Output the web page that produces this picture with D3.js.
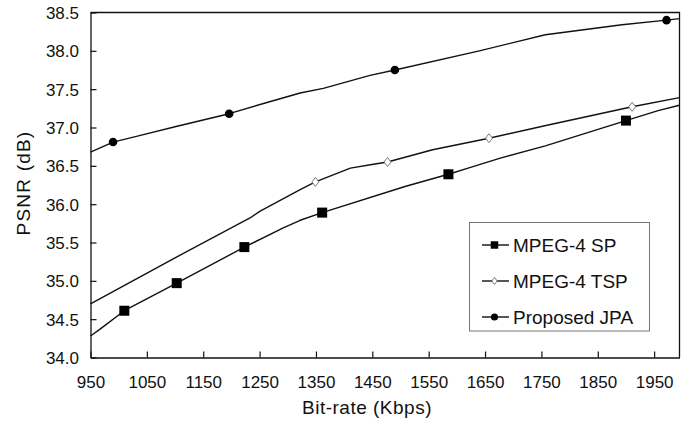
<!DOCTYPE html>
<html>
<head>
<meta charset="utf-8">
<script src="https://cdn.jsdelivr.net/npm/d3@7"></script>
<style>
  body { margin: 0; background: #fff; }
  text { font-family: "Liberation Sans", Arial, sans-serif; fill: #111; }
</style>
</head>
<body>
<div id="chart"></div>
<script>
var width = 690;
var height = 422;

// series names
var seriesNames = ["MPEG-4 SP", "MPEG-4 TSP", "Proposed JPA"];

// MPEG-4 SP curve (bit-rate, PSNR)
var spRate = [950, 967, 1010, 1103, 1223, 1292, 1322, 1361, 1508, 1585, 1620, 1677, 1757, 1900, 1957, 1995];
var spPsnr = [34.28, 34.37, 34.61, 34.97, 35.44, 35.69, 35.79, 35.89, 36.23, 36.39, 36.47, 36.60, 36.76, 37.09, 37.22, 37.29];
var spMarkRate = [1010, 1103, 1223, 1361, 1585, 1900];
var spMarkPsnr = [34.61, 34.97, 35.44, 35.89, 36.39, 37.09];

// MPEG-4 TSP curve
var tspRate = [950, 1100, 1233, 1251, 1322, 1349, 1411, 1452, 1477, 1557, 1657, 1760, 1911, 1995];
var tspPsnr = [34.70, 35.30, 35.82, 35.91, 36.19, 36.29, 36.47, 36.52, 36.55, 36.71, 36.86, 37.03, 37.27, 37.39];
var tspMarkRate = [1349, 1477, 1657, 1911];
var tspMarkPsnr = [36.29, 36.55, 36.86, 37.27];

// Proposed JPA curve
var jpaRate = [950, 990, 1035, 1100, 1196, 1260, 1322, 1363, 1446, 1490, 1640, 1757, 1893, 1972, 1995];
var jpaPsnr = [36.68, 36.81, 36.89, 37.01, 37.18, 37.32, 37.45, 37.51, 37.68, 37.75, 38.00, 38.21, 38.34, 38.40, 38.42];
var jpaMarkRate = [990, 1196, 1490, 1972];
var jpaMarkPsnr = [36.81, 37.18, 37.75, 38.40];

// axis ticks
var xTicks = [950, 1050, 1150, 1250, 1350, 1450, 1550, 1650, 1750, 1850, 1950];
var yTicks = [34.0, 34.5, 35.0, 35.5, 36.0, 36.5, 37.0, 37.5, 38.0, 38.5];

var plotLeft = 90.5, plotRight = 679.5, plotTop = 12.5, plotBottom = 357.5;

var xScale = d3.scaleLinear().domain([950, 1995]).range([plotLeft, plotRight]);
var yScale = d3.scaleLinear().domain([34, 38.5]).range([plotBottom, plotTop]);

var svg = d3.select("#chart")
    .append("svg")
    .attr("width", width)
    .attr("height", height);

function zip(a, b) {
    return a.map(function(v, i) { return [v, b[i]]; });
}

// frame (top and right)
svg.append("path")
    .attr("d", "M" + plotLeft + "," + plotTop + "H" + plotRight + "V" + plotBottom)
    .attr("fill", "none")
    .attr("stroke", "#111")
    .attr("stroke-width", 1.3);

// x axis
var xAxis = d3.axisBottom(xScale).tickValues(xTicks).tickFormat(d3.format("d"))
    .tickSizeInner(-6).tickSizeOuter(0);
var gx = svg.append("g")
    .attr("transform", "translate(0," + plotBottom + ")")
    .call(xAxis);
gx.select(".domain").attr("stroke", "#111").attr("stroke-width", 1.3);
gx.selectAll(".tick line").attr("stroke", "#111").attr("stroke-width", 1.2);
gx.selectAll(".tick text")
    .style("font-size", "17px")
    .attr("y", 30.5)
    .attr("dy", null);

// y axis
var yAxis = d3.axisLeft(yScale).tickValues(yTicks).tickFormat(d3.format(".1f"))
    .tickSizeInner(-6).tickSizeOuter(0);
var gy = svg.append("g")
    .attr("transform", "translate(" + plotLeft + ",0)")
    .call(yAxis);
gy.select(".domain").attr("stroke", "#111").attr("stroke-width", 1.3);
gy.selectAll(".tick line").attr("stroke", "#111").attr("stroke-width", 1.2);
gy.selectAll(".tick text")
    .style("font-size", "17px")
    .attr("x", -11.5)
    .attr("dy", "0.36em");

// axis titles
svg.append("text")
    .attr("x", 367)
    .attr("y", 414)
    .attr("text-anchor", "middle")
    .style("font-size", "19px")
    .style("letter-spacing", "0.5px")
    .text("Bit-rate (Kbps)");

svg.append("text")
    .attr("transform", "translate(30,183) rotate(-90)")
    .attr("text-anchor", "middle")
    .style("font-size", "19px")
    .style("letter-spacing", "1.2px")
    .text("PSNR (dB)");

// curves
var line = d3.line()
    .x(function(d) { return xScale(d[0]); })
    .y(function(d) { return yScale(d[1]); });

var plot = svg.append("g");

[zip(spRate, spPsnr), zip(tspRate, tspPsnr), zip(jpaRate, jpaPsnr)].forEach(function(pts) {
    plot.append("path")
        .datum(pts)
        .attr("d", line)
        .attr("fill", "none")
        .attr("stroke", "#111")
        .attr("stroke-width", 1.4)
        .attr("stroke-linejoin", "round");
});

// markers
function square(g, x, y, s) {
    g.append("rect")
        .attr("x", x - s / 2).attr("y", y - s / 2)
        .attr("width", s).attr("height", s)
        .attr("fill", "#000");
}
function circle(g, x, y, r) {
    g.append("circle")
        .attr("cx", x).attr("cy", y).attr("r", r)
        .attr("fill", "#000");
}
function diamond(g, x, y, w, h) {
    g.append("path")
        .attr("d", "M" + x + "," + (y - h / 2) + "L" + (x + w / 2) + "," + y +
                   "L" + x + "," + (y + h / 2) + "L" + (x - w / 2) + "," + y + "Z")
        .attr("fill", "#fff")
        .attr("stroke", "#777")
        .attr("stroke-width", 1);
}

zip(spMarkRate, spMarkPsnr).forEach(function(d) {
    square(plot, xScale(d[0]), yScale(d[1]), 10);
});
zip(tspMarkRate, tspMarkPsnr).forEach(function(d) {
    diamond(plot, xScale(d[0]), yScale(d[1]), 7, 9);
});
zip(jpaMarkRate, jpaMarkPsnr).forEach(function(d) {
    circle(plot, xScale(d[0]), yScale(d[1]), 4.3);
});

// legend
var legend = svg.append("g");
legend.append("rect")
    .attr("x", 469.5).attr("y", 222.5)
    .attr("width", 180).attr("height", 108.5)
    .attr("fill", "#fff")
    .attr("stroke", "#777")
    .attr("stroke-width", 1);

seriesNames.forEach(function(name, i) {
    var cy = 245 + i * 36;
    legend.append("line")
        .attr("x1", 482).attr("x2", 509)
        .attr("y1", cy).attr("y2", cy)
        .attr("stroke", "#111")
        .attr("stroke-width", 1.4);
    if (i === 0) square(legend, 494.5, cy, 7.5);
    if (i === 1) diamond(legend, 494.5, cy, 5.5, 7);
    if (i === 2) circle(legend, 494.5, cy, 3.6);
    legend.append("text")
        .attr("x", 513)
        .attr("y", cy + 6.8)
        .style("font-size", "19px")
        .text(name);
});
</script>
</body>
</html>
